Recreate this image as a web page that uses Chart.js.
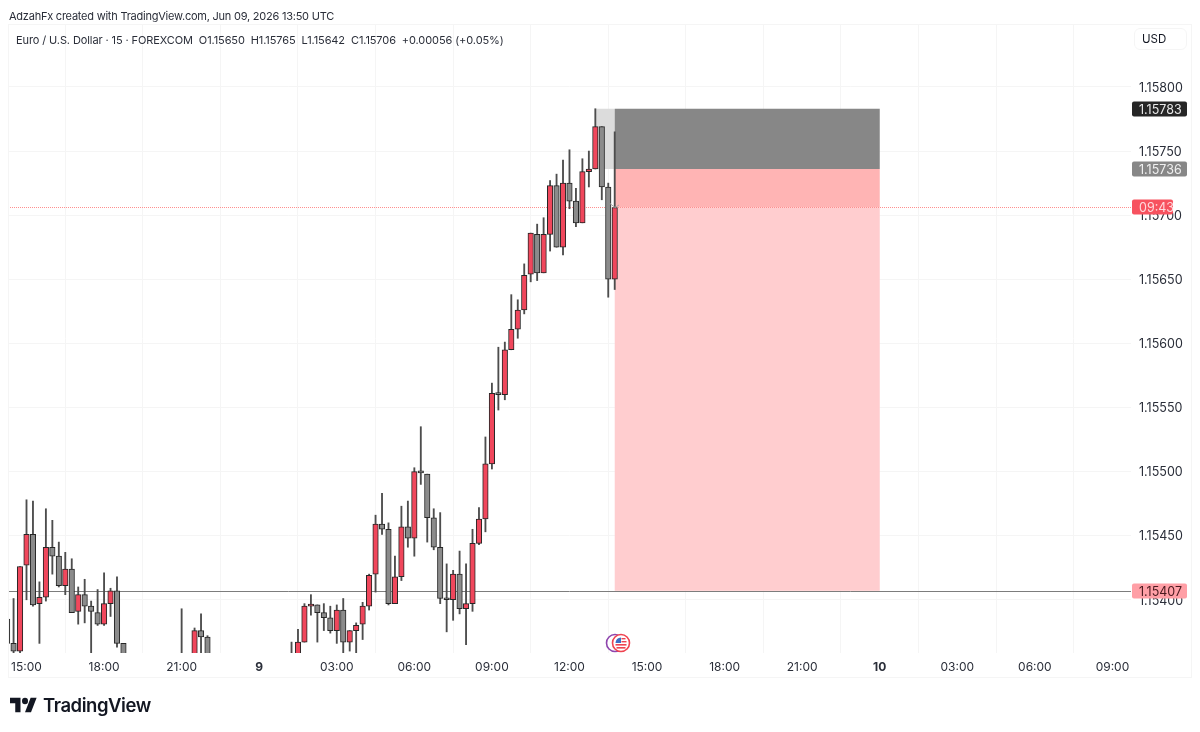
<!DOCTYPE html>
<html>
<head>
<meta charset="utf-8">
<title>EURUSD 15</title>
<script src="https://cdn.jsdelivr.net/npm/chart.js@4"></script>
<style>
  html, body { margin: 0; padding: 0; background: #fff; }
  body { width: 1200px; height: 732px; position: relative; overflow: hidden; font-family: Inter, "Noto Sans", sans-serif; color: #131722; }
  #wrap { position: absolute; left: 0; top: 0; width: 1200px; height: 732px; }
  .txt { position: absolute; white-space: nowrap; }
  #credit { left: 9px; top: 9px; font-size: 11px; letter-spacing: -0.23px; line-height: 14px; color: #2a2e39; }
  #legend { left: 16px; top: 33px; font-size: 11px; letter-spacing: -0.1px; line-height: 14px; color: #2a2e39; }
  #usd { left: 1134px; top: 28px; width: 53px; height: 22px; line-height: 20px; border: 1px solid #f5f5f5; border-radius: 6px; font-size: 11.5px; box-sizing: border-box; padding-left: 7px; }
  #logoText { left: 43px; top: 693px; font-size: 18.5px; line-height: 24px; font-weight: 600; letter-spacing: -0.45px; color: #131722; }
  svg { position: absolute; }
</style>
</head>
<body>
<div id="wrap"><canvas id="chart" width="1200" height="732"></canvas></div>
<div class="txt" id="credit">AdzahFx created with TradingView.com, Jun 09, 2026 13:50 UTC</div>
<div class="txt" id="legend">Euro / U.S. Dollar · 15 · FOREXCOM&nbsp; O1.15650&nbsp; H1.15765&nbsp; L1.15642&nbsp; C1.15706&nbsp; +0.00056 (+0.05%)</div>
<div class="txt" id="usd">USD</div>
<svg style="left:605px;top:632px" width="27" height="22" viewBox="0 0 27 22">
  <circle cx="10" cy="11" r="8.5" fill="#fff" stroke="#8e44ad" stroke-width="1.6"/>
  <circle cx="16" cy="11" r="8.5" fill="#fff" stroke="#ef4350" stroke-width="1.6"/>
  <rect x="10.5" y="12" width="11" height="1.6" fill="#ef4350"/>
  <rect x="11.5" y="15" width="9" height="1.6" fill="#ef4350"/>
  <path d="M10.5 11 a6 6 0 0 1 5.5 -5.5 v5.5 z" fill="#3f6fc4"/>
  <rect x="16.5" y="6" width="4" height="1.4" fill="#ef4350"/>
  <rect x="16.5" y="9" width="5" height="1.4" fill="#ef4350"/>
</svg>
<svg style="left:10px;top:696px" width="27" height="18" viewBox="0 2 36 22" preserveAspectRatio="none">
  <path d="M14 22H7V11H0V4h14v18zM28 22h-8l7.5-18h8L28 22z" fill="#131722"/>
  <circle cx="20" cy="8" r="4" fill="#131722"/>
</svg>
<div class="txt" id="logoText">TradingView</div>
<script>
// 15 min candles, slot 0 = the 15:00 candle of jun 8, one slot per 15 min
// slots that are missing sit completely below the visible price range
const slots = [-3,-2,-1,0,1,2,3,4,5,6,7,8,9,10,11,12,13,14,15,24,26,27,28,41,42,43,44,45,46,47,48,49,50,51,52,53,54,55,56,57,58,59,60,61,62,63,64,65,66,67,68,69,70,71,72,73,74,75,76,77,78,79,80,81,82,83,84,85,86,87,88,89,90,91];
const opens = [1.15385,1.15366,1.15360,1.15427,1.15451,1.15397,1.15402,1.15441,1.15434,1.15411,1.15424,1.15391,1.15404,1.15395,1.15390,1.15381,1.15397,1.15407,1.15366,1.15340,1.15340,1.15376,1.15371,1.15345,1.15340,1.15367,1.15395,1.15396,1.15390,1.15386,1.15376,1.15392,1.15367,1.15376,1.15381,1.15395,1.15420,1.15459,1.15455,1.15397,1.15418,1.15457,1.15448,1.15500,1.15498,1.15464,1.15441,1.15401,1.15400,1.15420,1.15393,1.15397,1.15444,1.15463,1.15506,1.15561,1.15560,1.15595,1.15611,1.15626,1.15654,1.15685,1.15655,1.15685,1.15723,1.15675,1.15725,1.15711,1.15694,1.15734,1.15736,1.15769,1.15722,1.15650];
const highs = [1.15385,1.15401,1.15426,1.15478,1.15477,1.15414,1.15471,1.15462,1.15445,1.15437,1.15432,1.15410,1.15416,1.15399,1.15408,1.15421,1.15409,1.15418,1.15366,1.15393,1.15378,1.15389,1.15372,1.15367,1.15377,1.15397,1.15404,1.15396,1.15397,1.15395,1.15396,1.15401,1.15376,1.15382,1.15398,1.15420,1.15466,1.15483,1.15460,1.15434,1.15473,1.15477,1.15503,1.15535,1.15498,1.15471,1.15468,1.15428,1.15423,1.15438,1.15428,1.15455,1.15472,1.15527,1.15569,1.15597,1.15601,1.15638,1.15634,1.15662,1.15686,1.15693,1.15698,1.15727,1.15732,1.15743,1.15751,1.15721,1.15744,1.15750,1.15783,1.15769,1.15725,1.15765];
const lows = [1.15366,1.15358,1.15358,1.15400,1.15395,1.15366,1.15399,1.15420,1.15410,1.15404,1.15390,1.15381,1.15382,1.15350,1.15380,1.15380,1.15387,1.15363,1.15330,1.15320,1.15335,1.15350,1.15335,1.15335,1.15335,1.15367,1.15388,1.15367,1.15376,1.15374,1.15366,1.15358,1.15360,1.15358,1.15369,1.15392,1.15406,1.15451,1.15396,1.15397,1.15415,1.15441,1.15434,1.15490,1.15445,1.15439,1.15397,1.15375,1.15384,1.15389,1.15365,1.15391,1.15443,1.15453,1.15502,1.15548,1.15556,1.15595,1.15604,1.15623,1.15648,1.15649,1.15655,1.15672,1.15675,1.15669,1.15705,1.15691,1.15694,1.15722,1.15736,1.15712,1.15636,1.15642];
const closes = [1.15366,1.15360,1.15426,1.15451,1.15396,1.15402,1.15441,1.15434,1.15411,1.15424,1.15390,1.15404,1.15395,1.15391,1.15381,1.15397,1.15407,1.15366,1.15340,1.15330,1.15376,1.15371,1.15340,1.15340,1.15367,1.15395,1.15396,1.15390,1.15386,1.15376,1.15392,1.15367,1.15376,1.15380,1.15395,1.15419,1.15459,1.15455,1.15397,1.15418,1.15457,1.15448,1.15500,1.15499,1.15464,1.15441,1.15401,1.15400,1.15420,1.15393,1.15397,1.15444,1.15463,1.15506,1.15561,1.15560,1.15595,1.15611,1.15626,1.15653,1.15686,1.15655,1.15685,1.15723,1.15675,1.15725,1.15711,1.15694,1.15734,1.15736,1.15769,1.15722,1.15650,1.15706];

const timeLabels = ['15:00','18:00','21:00','9','03:00','06:00','09:00','12:00','15:00','18:00','21:00','10','03:00','06:00','09:00'];
const priceTicks = [1.154,1.1545,1.155,1.1555,1.156,1.1565,1.157,1.1575,1.158];

const stopPrice = 1.15783, entryPrice = 1.15736, lastPrice = 1.15706, targetPrice = 1.15407;
const entrySlot = 88, boxStart = 91, boxEnd = 132;

const UP = '#f0475c', DOWN = '#8b8b8b', EDGE = '#262626';
const FONT = 'Inter, "Noto Sans", sans-serif';

function isUp(i) { return closes[i] >= opens[i]; }

// position tool + price line, behind the candles
const backdrop = {
  id: 'backdrop',
  beforeDatasetsDraw(chart) {
    const { ctx, chartArea: a, scales: { x, y } } = chart;
    const box = (s0, s1, p0, p1, col) => {
      ctx.fillStyle = col;
      ctx.fillRect(x.getPixelForValue(s0), y.getPixelForValue(p0), x.getPixelForValue(s1) - x.getPixelForValue(s0), y.getPixelForValue(p1) - y.getPixelForValue(p0));
    };
    ctx.save();
    box(entrySlot, boxStart, stopPrice, entryPrice, '#dcdcdc');
    box(boxStart, boxEnd, stopPrice, entryPrice, '#878787');
    box(boxStart, boxEnd, entryPrice, lastPrice, '#ffb4b4');
    box(boxStart, boxEnd, lastPrice, targetPrice, '#ffcdcf');

    const ty = Math.round(y.getPixelForValue(targetPrice)) + 0.5;
    ctx.strokeStyle = '#7d7d7d';
    ctx.lineWidth = 1;
    ctx.beginPath(); ctx.moveTo(a.left, ty); ctx.lineTo(a.right, ty); ctx.stroke();

    const ly = Math.round(y.getPixelForValue(lastPrice)) + 0.5;
    ctx.strokeStyle = '#ff8f8f';
    ctx.setLineDash([1, 1]);
    ctx.beginPath(); ctx.moveTo(a.left, ly); ctx.lineTo(a.right, ly); ctx.stroke();
    ctx.restore();
  }
};

// frame round the pane, tags on the price axis
const overlay = {
  id: 'overlay',
  afterDraw(chart) {
    const { ctx, scales: { y } } = chart;
    ctx.save();
    ctx.strokeStyle = '#f5f5f5';
    ctx.lineWidth = 1;
    ctx.strokeRect(8.5, 24.5, 1183, 653);

    const tag = (price, text, bg, fg, w) => {
      const c = y.getPixelForValue(price);
      ctx.fillStyle = bg;
      ctx.beginPath();
      ctx.roundRect(1132, Math.round(c) - 7.5, w, 15, 2);
      ctx.fill();
      ctx.fillStyle = fg;
      ctx.font = '12.5px ' + FONT;
      ctx.textAlign = 'left';
      ctx.textBaseline = 'middle';
      ctx.fillText(text, 1139, c + 1);
    };
    tag(stopPrice, stopPrice.toFixed(5), '#262626', '#e8e8e8', 55);
    tag(entryPrice, entryPrice.toFixed(5), '#878787', '#f0f0f0', 55);
    tag(lastPrice, '09:43', '#f7525f', '#ffd9dc', 41);
    tag(targetPrice, targetPrice.toFixed(5), '#ff9fa6', '#4a1a1f', 55);

    // small arrow tip of the trade line
    ctx.strokeStyle = '#a8a8a8';
    ctx.beginPath(); ctx.moveTo(610, 203.5); ctx.lineTo(615, 207.5); ctx.lineTo(619, 205); ctx.stroke();
    ctx.restore();
  }
};

new Chart(document.getElementById('chart'), {
  type: 'bar',
  data: {
    datasets: [
      {
        label: 'body',
        order: 1,
        data: slots.map((s, i) => ({ x: s, y: [opens[i], closes[i]] })),
        backgroundColor: slots.map((s, i) => isUp(i) ? UP : DOWN),
        borderColor: EDGE,
        borderWidth: 1,
        borderSkipped: false,
        barThickness: 5.5,
        minBarLength: 2
      },
      {
        label: 'wick',
        order: 2,
        data: slots.map((s, i) => ({ x: s, y: [lows[i], highs[i]] })),
        backgroundColor: '#4d4d4d',
        borderWidth: 0,
        barThickness: 1.2
      }
    ]
  },
  options: {
    responsive: false,
    animation: false,
    grouped: false,
    devicePixelRatio: 1,
    layout: { padding: { left: 8, top: 24, right: 8, bottom: 55 } },
    plugins: { legend: { display: false }, tooltip: { enabled: false } },
    scales: {
      x: {
        type: 'linear',
        offset: false,
        min: -2.862,
        max: 170.87,
        afterFit: s => { s.height = 24; },
        afterBuildTicks: s => { s.ticks = timeLabels.map((t, k) => ({ value: k * 12 })); },
        grid: { color: '#f5f5f5', drawTicks: false },
        border: { display: false },
        ticks: {
          autoSkip: false,
          maxRotation: 0,
          padding: 7,
          color: '#2a2e39',
          font: c => {
            const bold = c.tick && timeLabels[c.tick.value / 12].length < 3;
            return { family: FONT, size: 12, weight: bold ? 'bold' : 'normal' };
          },
          callback: v => timeLabels[v / 12]
        }
      },
      y: {
        position: 'right',
        min: 1.153585,
        max: 1.158491,
        afterFit: s => { s.width = 61; },
        afterBuildTicks: s => { s.ticks = priceTicks.map(v => ({ value: v })); },
        grid: { color: '#f5f5f5', drawTicks: false },
        border: { display: false },
        ticks: {
          padding: 8,
          labelOffset: 1,
          color: '#2a2e39',
          font: { family: FONT, size: 12.5 },
          callback: v => v.toFixed(5)
        }
      }
    }
  },
  plugins: [backdrop, overlay]
});
</script>
</body>
</html>
